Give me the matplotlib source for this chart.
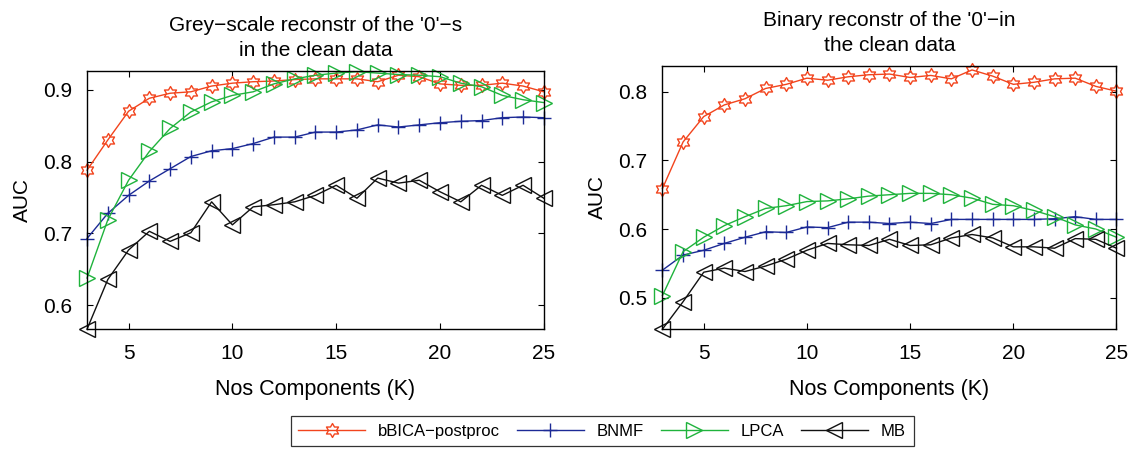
#!/usr/bin/env python3
"""AUC vs number of components for grey-scale and binary reconstructions."""

import matplotlib
matplotlib.use('Agg')
import matplotlib.pyplot as plt
import numpy as np
from matplotlib.path import Path

plt.rcParams.update({
    'font.family': ['Liberation Sans', 'DejaVu Sans'],
    'font.size': 12,
    'axes.linewidth': 1.0,
})

# ── Data ───────────────────────────────────────────────────────────
K = list(range(3, 26))

grey_bbica = [0.788, 0.830, 0.870, 0.888, 0.895, 0.897, 0.905, 0.909, 0.911, 0.912,
              0.914, 0.915, 0.915, 0.915, 0.911, 0.920, 0.918, 0.908, 0.906, 0.906,
              0.909, 0.905, 0.897]
grey_bnmf = [0.693, 0.728, 0.753, 0.773, 0.790, 0.807, 0.815, 0.818, 0.825, 0.834,
             0.834, 0.841, 0.841, 0.844, 0.851, 0.848, 0.851, 0.854, 0.856, 0.857,
             0.861, 0.862, 0.861]
grey_lpca = [0.638, 0.719, 0.774, 0.814, 0.846, 0.869, 0.883, 0.892, 0.897, 0.908,
             0.915, 0.920, 0.923, 0.925, 0.923, 0.921, 0.920, 0.918, 0.909, 0.904,
             0.892, 0.886, 0.882]
grey_mb = [0.567, 0.636, 0.677, 0.703, 0.689, 0.701, 0.744, 0.712, 0.737, 0.740,
           0.744, 0.753, 0.767, 0.749, 0.777, 0.770, 0.774, 0.758, 0.744, 0.767,
           0.753, 0.767, 0.749]

bin_bbica = [0.659, 0.727, 0.764, 0.781, 0.790, 0.805, 0.811, 0.820, 0.817, 0.822,
             0.825, 0.826, 0.821, 0.824, 0.819, 0.832, 0.823, 0.811, 0.814, 0.819,
             0.820, 0.808, 0.801]
bin_bnmf = [0.540, 0.562, 0.569, 0.579, 0.588, 0.596, 0.595, 0.603, 0.602, 0.610,
            0.610, 0.608, 0.610, 0.608, 0.614, 0.614, 0.614, 0.614, 0.614, 0.615,
            0.618, 0.614, 0.614]
bin_lpca = [0.503, 0.567, 0.588, 0.605, 0.618, 0.630, 0.634, 0.640, 0.641, 0.644,
            0.648, 0.650, 0.652, 0.652, 0.650, 0.645, 0.636, 0.634, 0.627, 0.618,
            0.606, 0.600, 0.588]
bin_mb = [0.454, 0.494, 0.537, 0.543, 0.538, 0.546, 0.556, 0.569, 0.579, 0.577,
          0.576, 0.585, 0.576, 0.577, 0.587, 0.592, 0.587, 0.574, 0.574, 0.572,
          0.586, 0.585, 0.572]

labels = ['bBICA\u2212postproc', 'BNMF', 'LPCA', 'MB']
titles = ["Grey\u2212scale reconstr of the '0'\u2212s\nin the clean data",
          "Binary reconstr of the '0'\u2212in\nthe clean data"]

# ── Styling ────────────────────────────────────────────────────────
# six-pointed star outline (MATLAB 'hexagram')
ang = np.pi / 2 + np.arange(12) * np.pi / 6
rad = np.where(np.arange(12) % 2 == 0, 1.0, 1 / np.sqrt(3))
verts = np.column_stack([rad * np.cos(ang), rad * np.sin(ang)])
verts = np.vstack([verts, verts[:1]])
HEXAGRAM = Path(verts, [Path.MOVETO] + [Path.LINETO] * 11 + [Path.CLOSEPOLY])

STYLES = [
    dict(color='#f2441d', marker=HEXAGRAM, markersize=10),
    dict(color='#1c2a96', marker='+', markersize=10, markeredgewidth=1.0),
    dict(color='#1fb33c', marker='>', markersize=11),
    dict(color='#111111', marker='<', markersize=11),
]

fig = plt.figure(figsize=(11.32, 4.49), dpi=100)
ax1 = fig.add_axes([0.0769, 0.2670, 0.4035, 0.5750])
ax2 = fig.add_axes([0.5852, 0.2670, 0.4011, 0.5864])

panels = [
    (ax1, [grey_bbica, grey_bnmf, grey_lpca, grey_mb], (0.567, 0.926), [0.6, 0.7, 0.8, 0.9]),
    (ax2, [bin_bbica, bin_bnmf, bin_lpca, bin_mb], (0.454, 0.838), [0.5, 0.6, 0.7, 0.8]),
]

handles = []
for i, (ax, series, ylim, yticks) in enumerate(panels):
    hs = []
    for vals, lab, st in zip(series, labels, STYLES):
        h, = ax.plot(K, vals, label=lab, linewidth=1.0,
                     markerfacecolor='none', markeredgecolor=st['color'],
                     clip_on=False, **st)
        hs.append(h)
    if i == 0:
        handles = hs
    ax.set_xlim(3, 25)
    ax.set_ylim(*ylim)
    ax.set_xticks([5, 10, 15, 20, 25])
    ax.set_yticks(yticks)
    ax.tick_params(direction='in', top=True, right=True, labelsize=15, length=4)
    ax.tick_params(axis='x', pad=11)
    ax.tick_params(axis='y', pad=11)
    ax.set_xlabel('Nos Components (K)', fontsize=15.5, labelpad=11)
    ax.set_ylabel('AUC', fontsize=15, labelpad=8)
    ax.set_title(titles[i], fontsize=15, pad=11, linespacing=1.35)

leg = fig.legend(handles, labels, loc='center', bbox_to_anchor=(0.532, 0.040),
                 ncol=4, fontsize=12, frameon=True, fancybox=False,
                 handlelength=4.0, handletextpad=0.8, columnspacing=1.0,
                 borderpad=0.45)
leg.get_frame().set_edgecolor('black')
leg.get_frame().set_linewidth(0.9)

plt.savefig('out.png', dpi=100)
plt.close()
